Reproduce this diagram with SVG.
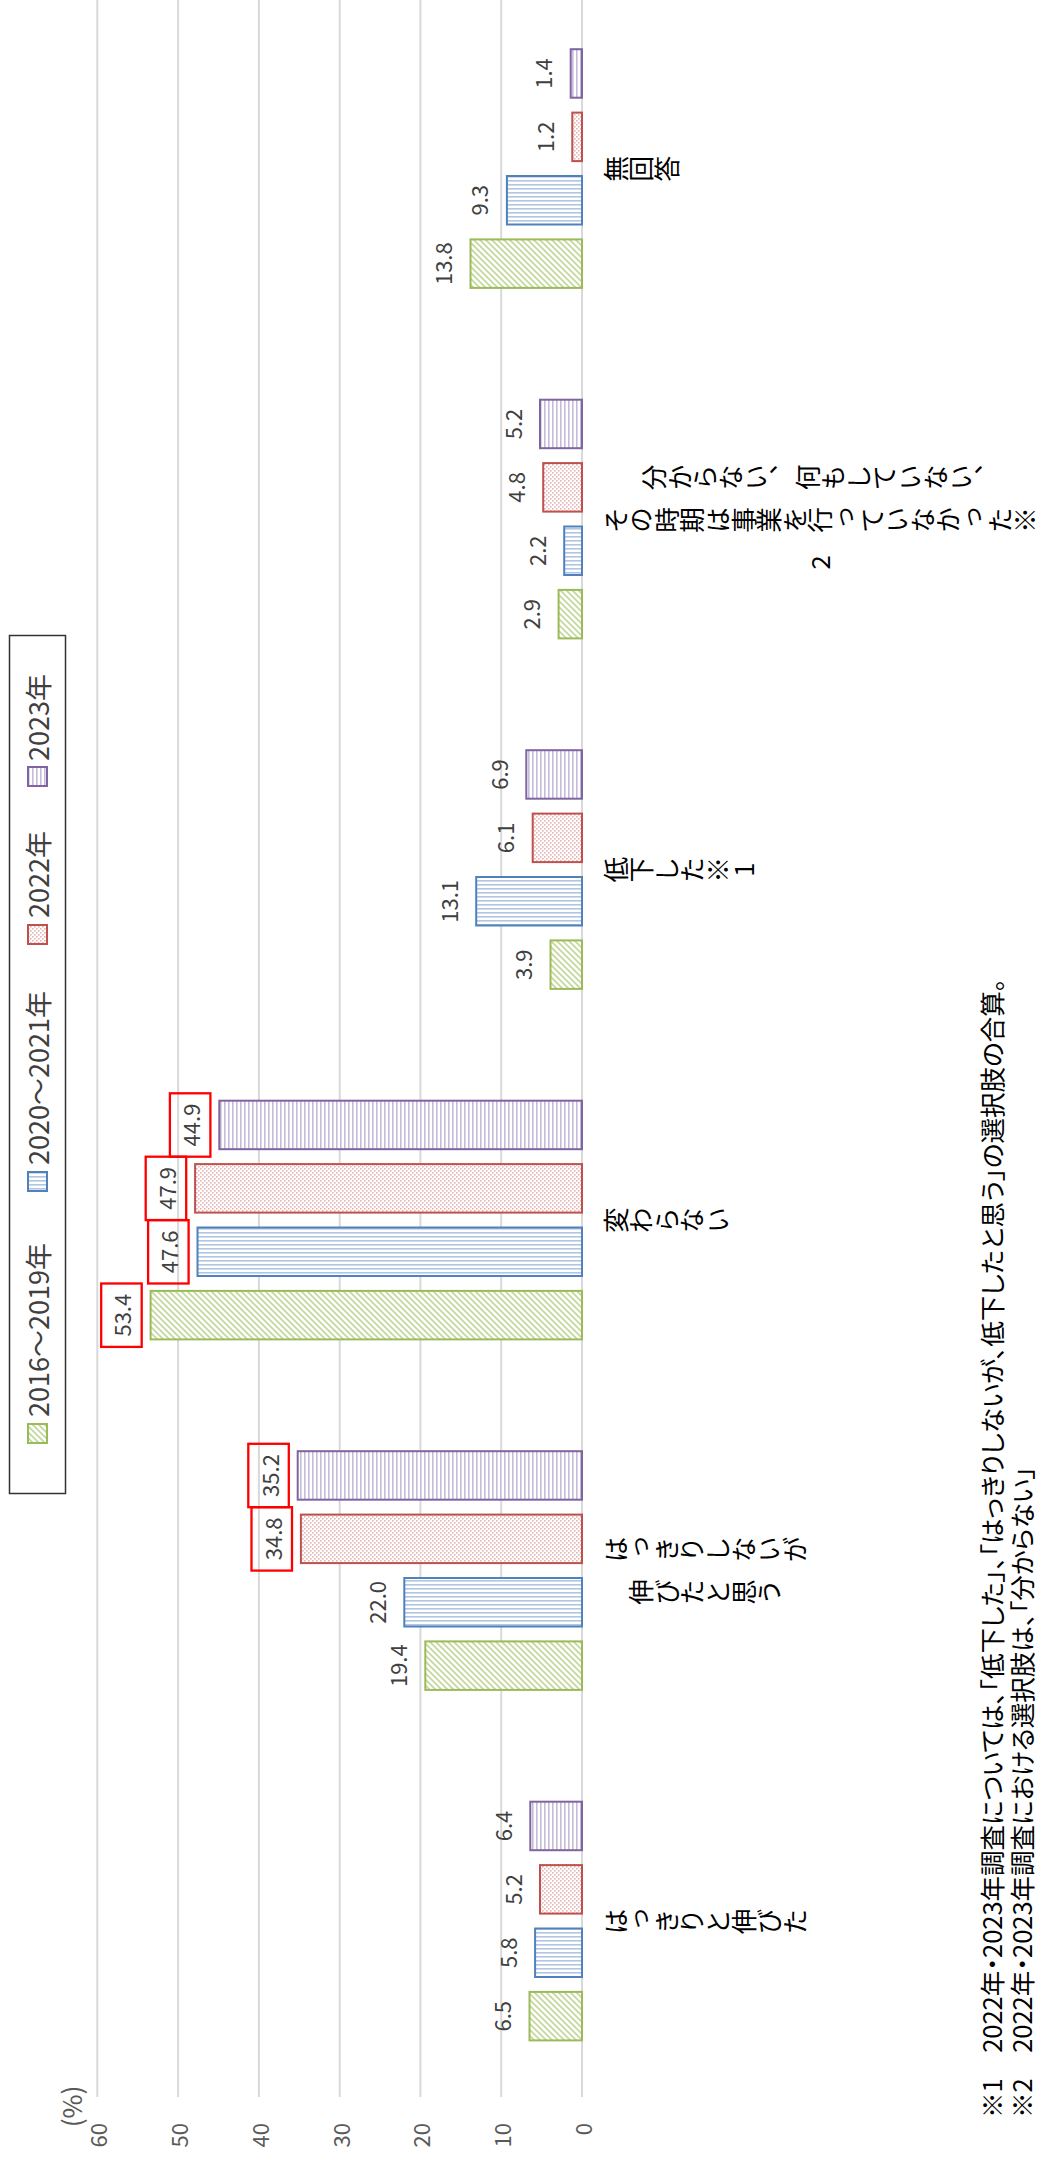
<svg xmlns="http://www.w3.org/2000/svg" width="1040" height="2157" viewBox="0 0 1040 2157">
<defs>
<pattern id="pG" width="6" height="6" patternUnits="userSpaceOnUse"><rect width="6" height="6" fill="#fff"/><path d="M-1,-1 L7,7 M-1,5 L1,7 M5,-1 L7,1" stroke="#C3D69B" stroke-width="1.6"/></pattern>
<pattern id="pB" width="4" height="4" patternUnits="userSpaceOnUse"><rect width="4" height="4" fill="#fff"/><rect width="4" height="1.6" fill="#B0C6E2"/></pattern>
<pattern id="pR" width="4" height="4" patternUnits="userSpaceOnUse"><rect width="4" height="4" fill="#fff"/><rect width="1.6" height="1.6" fill="#E3B4B3"/><rect x="2" y="2" width="1.6" height="1.6" fill="#E3B4B3"/></pattern>
<pattern id="pP" width="4" height="4" patternUnits="userSpaceOnUse"><rect width="4" height="4" fill="#fff"/><rect width="1.6" height="4" fill="#C6BBD8"/></pattern>
</defs>
<style>
.grid{stroke:#D9D9D9;stroke-width:2}
.g{fill:url(#pG);stroke:#9BBB59;stroke-width:2}
.b{fill:url(#pB);stroke:#4F81BD;stroke-width:2}
.r{fill:url(#pR);stroke:#C0504D;stroke-width:2}
.p{fill:url(#pP);stroke:#8064A2;stroke-width:2}
.val{font-family:"Noto Sans CJK JP","Liberation Sans",sans-serif;font-size:22px;fill:#404040;text-anchor:middle;dominant-baseline:central}
.ax{font-family:"Noto Sans CJK JP","Liberation Sans",sans-serif;font-size:22px;fill:#595959;text-anchor:end;dominant-baseline:central}
.pct{font-family:"Noto Sans CJK JP","Liberation Sans",sans-serif;font-size:26px;fill:#595959;text-anchor:middle;dominant-baseline:central}
.cat{font-family:"Noto Sans CJK JP",sans-serif;font-size:25.6px;fill:#000;writing-mode:vertical-rl;text-orientation:upright}
.mid{text-anchor:middle}
.leg{font-family:"Noto Sans CJK JP","Liberation Sans",sans-serif;font-size:27px;fill:#404040;dominant-baseline:central}
.fn{font-family:"Noto Sans CJK JP",sans-serif;font-size:25.5px;fill:#000;dominant-baseline:central;font-feature-settings:"palt"}
.box{fill:none;stroke:#FF0000;stroke-width:2.3}
</style>
<rect width="1040" height="2157" fill="#fff"/>

<g id="gridlines">
<line class="grid" x1="582" y1="0" x2="582" y2="2097"/>
<line class="grid" x1="501.2" y1="0" x2="501.2" y2="2097"/>
<line class="grid" x1="420.4" y1="0" x2="420.4" y2="2097"/>
<line class="grid" x1="339.7" y1="0" x2="339.7" y2="2097"/>
<line class="grid" x1="258.9" y1="0" x2="258.9" y2="2097"/>
<line class="grid" x1="178.1" y1="0" x2="178.1" y2="2097"/>
<line class="grid" x1="97.3" y1="0" x2="97.3" y2="2097"/>
</g>

<g id="axis-labels">
<text class="ax" transform="translate(582,2123) rotate(-90)">0</text>
<text class="ax" transform="translate(501.2,2123) rotate(-90)">10</text>
<text class="ax" transform="translate(420.4,2123) rotate(-90)">20</text>
<text class="ax" transform="translate(339.7,2123) rotate(-90)">30</text>
<text class="ax" transform="translate(258.9,2123) rotate(-90)">40</text>
<text class="ax" transform="translate(178.1,2123) rotate(-90)">50</text>
<text class="ax" transform="translate(97.3,2123) rotate(-90)">60</text>
<text class="pct" transform="translate(70,2106.5) rotate(-90)">(%)</text>
</g>

<g id="legend">
<rect x="9.5" y="635.5" width="56" height="858" fill="#fff" stroke="#333" stroke-width="1.5"/>
<rect class="g" x="28" y="1424" width="19" height="19"/>
<text class="leg" transform="translate(37.5,1417) rotate(-90)">2016～2019年</text>
<rect class="b" x="28" y="1172" width="19" height="19"/>
<text class="leg" transform="translate(37.5,1165) rotate(-90)">2020～2021年</text>
<rect class="r" x="28" y="925" width="19" height="19"/>
<text class="leg" transform="translate(37.5,918) rotate(-90)">2022年</text>
<rect class="p" x="28" y="767" width="19" height="19"/>
<text class="leg" transform="translate(37.5,761) rotate(-90)">2023年</text>
</g>

<g id="cat1-hakkiri-nobita">
<rect class="p" x="530.3" y="1801.7" width="51.7" height="48.5"/>
<rect class="r" x="540" y="1865.1" width="42" height="48.5"/>
<rect class="b" x="535.1" y="1928.5" width="46.9" height="48.5"/>
<rect class="g" x="529.5" y="1991.9" width="52.5" height="48.5"/>
<text class="val" transform="translate(501.8,1826) rotate(-90)">6.4</text>
<text class="val" transform="translate(511.5,1889.4) rotate(-90)">5.2</text>
<text class="val" transform="translate(506.6,1952.8) rotate(-90)">5.8</text>
<text class="val" transform="translate(501,2016.2) rotate(-90)">6.5</text>
<text class="cat" transform="translate(603,1921.5) rotate(-90)">はっきりと伸びた</text>
</g>

<g id="cat2-hakkiri-shinaiga">
<rect class="p" x="297.7" y="1451.2" width="284.3" height="48.5"/>
<rect class="r" x="300.9" y="1514.6" width="281.1" height="48.5"/>
<rect class="b" x="404.3" y="1578" width="177.7" height="48.5"/>
<rect class="g" x="425.3" y="1641.4" width="156.7" height="48.5"/>
<rect class="box" x="248.3" y="1443.8" width="40.5" height="63.4"/>
<rect class="box" x="251.5" y="1507.2" width="40.5" height="63.4"/>
<text class="val" transform="translate(268.5,1475.5) rotate(-90)">35.2</text>
<text class="val" transform="translate(271.7,1538.9) rotate(-90)">34.8</text>
<text class="val" transform="translate(375.8,1602.3) rotate(-90)">22.0</text>
<text class="val" transform="translate(396.8,1665.7) rotate(-90)">19.4</text>
<text class="cat mid" transform="translate(705.4,1549.5) rotate(-90)">はっきりしないが</text>
<text class="cat mid" transform="translate(705.4,1592) rotate(-90)">伸びたと思う</text>
</g>

<g id="cat3-kawaranai">
<rect class="p" x="219.3" y="1100.7" width="362.7" height="48.5"/>
<rect class="r" x="195.1" y="1164.1" width="386.9" height="48.5"/>
<rect class="b" x="197.5" y="1227.5" width="384.5" height="48.5"/>
<rect class="g" x="150.6" y="1290.9" width="431.4" height="48.5"/>
<rect class="box" x="169.9" y="1093.3" width="40.5" height="63.4"/>
<rect class="box" x="145.7" y="1156.7" width="40.5" height="63.4"/>
<rect class="box" x="148.1" y="1220.1" width="40.5" height="63.4"/>
<rect class="box" x="101.2" y="1283.5" width="40.5" height="63.4"/>
<text class="val" transform="translate(190.1,1125) rotate(-90)">44.9</text>
<text class="val" transform="translate(165.9,1188.4) rotate(-90)">47.9</text>
<text class="val" transform="translate(168.3,1251.8) rotate(-90)">47.6</text>
<text class="val" transform="translate(121.4,1315.2) rotate(-90)">53.4</text>
<text class="cat" transform="translate(603,1220.2) rotate(-90)">変わらない</text>
</g>

<g id="cat4-teika">
<rect class="p" x="526.3" y="750.2" width="55.7" height="48.5"/>
<rect class="r" x="532.7" y="813.6" width="49.3" height="48.5"/>
<rect class="b" x="476.2" y="877" width="105.8" height="48.5"/>
<rect class="g" x="550.5" y="940.4" width="31.5" height="48.5"/>
<text class="val" transform="translate(497.8,774.5) rotate(-90)">6.9</text>
<text class="val" transform="translate(504.2,837.9) rotate(-90)">6.1</text>
<text class="val" transform="translate(447.7,901.3) rotate(-90)">13.1</text>
<text class="val" transform="translate(522,964.7) rotate(-90)">3.9</text>
<text class="cat" transform="translate(603,869.7) rotate(-90)">低下した※1</text>
</g>

<g id="cat5-wakaranai">
<rect class="p" x="540" y="399.7" width="42" height="48.5"/>
<rect class="r" x="543.2" y="463.1" width="38.8" height="48.5"/>
<rect class="b" x="564.2" y="526.5" width="17.8" height="48.5"/>
<rect class="g" x="558.6" y="589.9" width="23.4" height="48.5"/>
<text class="val" transform="translate(511.5,424) rotate(-90)">5.2</text>
<text class="val" transform="translate(514.7,487.4) rotate(-90)">4.8</text>
<text class="val" transform="translate(535.7,550.8) rotate(-90)">2.2</text>
<text class="val" transform="translate(530.1,614.2) rotate(-90)">2.9</text>
<text class="cat mid" transform="translate(820.6,477.5) rotate(-90)">分からない、何もしていない、</text>
<text class="cat mid" transform="translate(820.6,520) rotate(-90)">その時期は事業を行っていなかった※</text>
<text class="cat mid" transform="translate(820.6,562.5) rotate(-90)">2</text>
</g>

<g id="cat6-mukaitou">
<rect class="p" x="570.7" y="49.2" width="11.3" height="48.5"/>
<rect class="r" x="572.3" y="112.6" width="9.7" height="48.5"/>
<rect class="b" x="506.9" y="176" width="75.1" height="48.5"/>
<rect class="g" x="470.5" y="239.4" width="111.5" height="48.5"/>
<text class="val" transform="translate(542.2,73.5) rotate(-90)">1.4</text>
<text class="val" transform="translate(543.8,136.9) rotate(-90)">1.2</text>
<text class="val" transform="translate(478.4,200.3) rotate(-90)">9.3</text>
<text class="val" transform="translate(442,263.7) rotate(-90)">13.8</text>
<text class="cat" transform="translate(603,168.7) rotate(-90)">無回答</text>
</g>

<g id="footnotes">
<text class="fn" transform="translate(990,2118) rotate(-90)">※1　2022年・2023年調査については、「低下した」、「はっきりしないが、低下したと思う」の選択肢の合算。</text>
<text class="fn" transform="translate(1020.5,2118) rotate(-90)">※2　2022年・2023年調査における選択肢は、「分からない」</text>
</g>
</svg>
